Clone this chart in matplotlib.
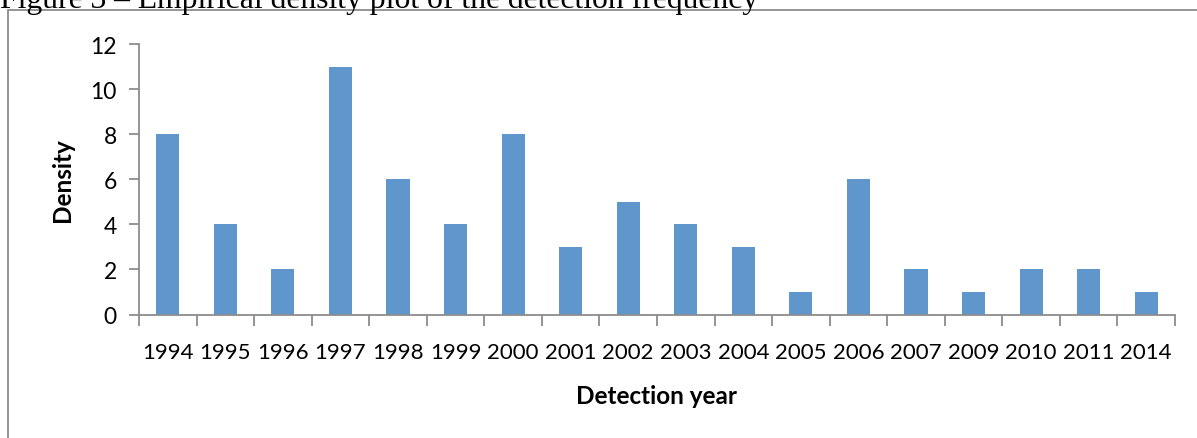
import matplotlib.pyplot as plt
from matplotlib.patches import Rectangle

# data
years = ["1994", "1995", "1996", "1997", "1998", "1999", "2000", "2001", "2002",
         "2003", "2004", "2005", "2006", "2007", "2009", "2010", "2011", "2014"]
density = [8, 4, 2, 11, 6, 4, 8, 3, 5, 4, 3, 1, 6, 2, 1, 2, 2, 1]

W, H = 1197, 439
fig = plt.figure(figsize=(W / 100, H / 100), dpi=100)

# chart frame (left and top edges visible, rest clipped)
fig.patches.append(Rectangle((8 / W, -0.1), 1.2, 1 - 11 / H + 0.1, transform=fig.transFigure,
                             fill=False, edgecolor="#8c8c8c", linewidth=1.3))

# caption, clipped at the top as in the source document
fig.text(0, 1 - 8 / H, "Figure 3 \u2013 Empirical density plot of the detection frequency",
         family="Liberation Serif", fontsize=22.8, va="baseline", ha="left")

ax = fig.add_axes([139 / W, 1 - 315.5 / H, (1175 - 139) / W, (315.5 - 45) / H])
x = list(range(len(years)))
ax.bar(x, density, width=0.4, color="#5f97cd")
ax.set_xlim(-0.5, len(years) - 0.5)
ax.set_ylim(0, 12)

font = "Lato"
ax.set_yticks(range(0, 13, 2))
ax.set_yticklabels([str(v) for v in range(0, 13, 2)], family=font, fontsize=16.5)
ax.set_xticks(x)
ax.set_xticklabels(years, family=font, fontsize=16)
ax.tick_params(axis="x", length=0, pad=20)
ax.tick_params(axis="y", length=7, color="#8c8c8c", width=1.3, pad=9)
# category boundary ticks
ax.set_xticks([i - 0.5 for i in range(len(years) + 1)], minor=True)
ax.tick_params(axis="x", which="minor", length=8, color="#8c8c8c", width=1.3, direction="out")

for s in ["top", "right"]:
    ax.spines[s].set_visible(False)
for s in ["left", "bottom"]:
    ax.spines[s].set_color("#8c8c8c")
    ax.spines[s].set_linewidth(1.3)

ax.set_xlabel("Detection year", family=font, fontsize=17.5, fontweight="bold", labelpad=16)
ax.set_ylabel("Density", family=font, fontsize=17.5, fontweight="bold", labelpad=12)

fig.savefig("out.png", dpi=100)
